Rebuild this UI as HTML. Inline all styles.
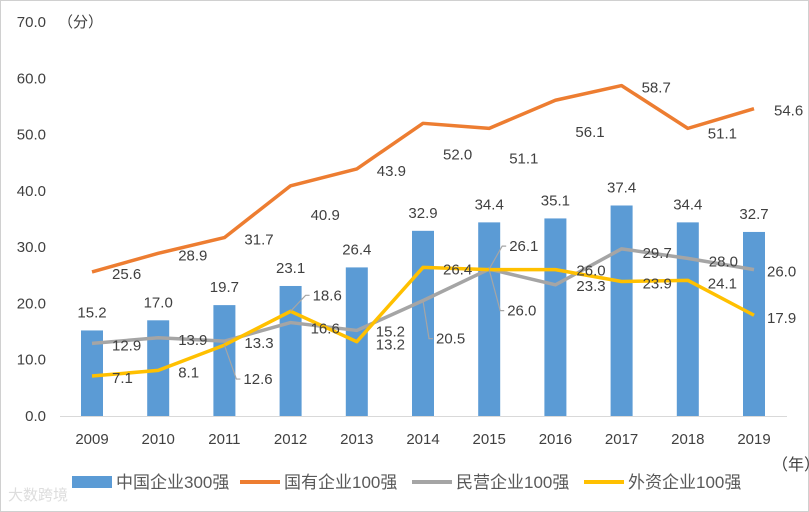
<!DOCTYPE html>
<html><head><meta charset="utf-8"><style>
html,body{margin:0;padding:0;background:#fff}
svg{display:block;font-family:"Liberation Sans","Noto Sans CJK SC",sans-serif}
</style></head><body>
<svg id="c" width="809" height="512" viewBox="0 0 809 512">
<rect x="0.5" y="0.5" width="808" height="511" fill="#fff" stroke="#d0d0d0"/>
<g id="grid"></g><g id="marks"></g><g id="labels"></g>
<text x="772" y="470" font-size="16" fill="#404040">（年）</text>
<g font-size="17" fill="#595959">
<g><rect x="72" y="476" width="40" height="12" fill="#5B9BD5"/><text x="116" y="488">中国企业300强</text></g>
<g><line x1="240" y1="482" x2="280" y2="482" stroke="#ED7D31" stroke-width="4"/><text x="284" y="488">国有企业100强</text></g>
<g><line x1="412" y1="482" x2="452" y2="482" stroke="#A5A5A5" stroke-width="4"/><text x="456" y="488">民营企业100强</text></g>
<g><line x1="584" y1="482" x2="624" y2="482" stroke="#FFC000" stroke-width="4"/><text x="628" y="488">外资企业100强</text></g>
</g>
<text x="8" y="500" font-size="15" fill="#ddd">大数跨境</text>
</svg>
<script>
const years=["2009","2010","2011","2012","2013","2014","2015","2016","2017","2018","2019"];
const china300=[15.2,17.0,19.7,23.1,26.4,32.9,34.4,35.1,37.4,34.4,32.7];
const state100=[25.6,28.9,31.7,40.9,43.9,52.0,51.1,56.1,58.7,51.1,54.6];
const private100=[12.9,13.9,13.3,16.6,15.2,20.5,26.1,23.3,29.7,28.0,26.0];
const foreign100=[7.1,8.1,12.6,18.6,13.2,26.4,26.0,26.0,23.9,24.1,17.9];
const yTicks=[0,10,20,30,40,50,60,70];
const NS="http://www.w3.org/2000/svg";
const y=v=>416-v*(394/70);
const x=i=>92+i*66.2;
// label offset overrides [dx, dy(baseline), leader]
const off={
 "state100:3":[20,34],"state100:5":[20,36],"state100:6":[20,35],"state100:7":[20,37],"state100:9":[20,10],
 "foreign100:2":[19,39,1],"foreign100:3":[22,-11,1],"private100:3":[20,11],
 "private100:4":[19,6],"foreign100:4":[19,8],
 "private100:5":[13,43,1],"foreign100:5":[20,7],
 "private100:6":[20,-18,1],"foreign100:6":[18,46,1],
 "foreign100:7":[21,6],"private100:7":[21,6],
 "private100:8":[21,9],"foreign100:8":[21,7],
 "private100:9":[21,8],"foreign100:9":[20,8],
 "private100:10":[13,7],"foreign100:10":[13,8]
};
function mk(t,a,p){const e=document.createElementNS(NS,t);for(const k in a)e.setAttribute(k,a[k]);document.getElementById(p).appendChild(e);return e;}
const ax=mk('line',{x1:60,x2:787,y1:416.5,y2:416.5,stroke:'#d9d9d9'},'grid');


yTicks.forEach(v=>{const t=mk('text',{x:46,y:y(v)+5,'font-size':15,fill:'#404040','text-anchor':'end'},'grid');t.textContent=v.toFixed(1);

});
const u=mk('text',{x:58,y:y(70)+5,'font-size':15,fill:'#404040'},'grid');u.textContent='（分）';


years.forEach((yr,i)=>{const t=mk('text',{x:x(i),y:444,'font-size':15,fill:'#404040','text-anchor':'middle'},'grid');t.textContent=yr;

});
china300.forEach((v,i)=>{const r=mk('rect',{x:x(i)-11,y:y(v),width:22,height:416-y(v),fill:'#5B9BD5'},'marks');


const t=mk('text',{x:x(i),y:y(v)-13,'font-size':15,fill:'#404040','text-anchor':'middle'},'labels');t.textContent=v.toFixed(1);

});
function line(arr,col,name){const p=mk('polyline',{points:arr.map((v,i)=>x(i)+','+y(v)).join(' '),fill:'none',stroke:col,'stroke-width':3.5,'stroke-linejoin':'round'},'marks');


arr.forEach((v,i)=>{const o=off[name+':'+i]||[20,7];const px=x(i),py=y(v);
const lx=px+o[0],ly=py+o[1];
if(o[2]){const l=mk('polyline',{points:px+','+py+' '+(lx-7)+','+(ly-5)+' '+(lx-3)+','+(ly-5),fill:'none',stroke:'#A5A5A5','stroke-width':1.2},'labels');

}
const t=mk('text',{x:lx,y:ly,'font-size':15,fill:'#404040'},'labels');t.textContent=v.toFixed(1);

});}
line(private100,'#A5A5A5','private100');
line(foreign100,'#FFC000','foreign100');
line(state100,'#ED7D31','state100');
</script>
</body></html>
